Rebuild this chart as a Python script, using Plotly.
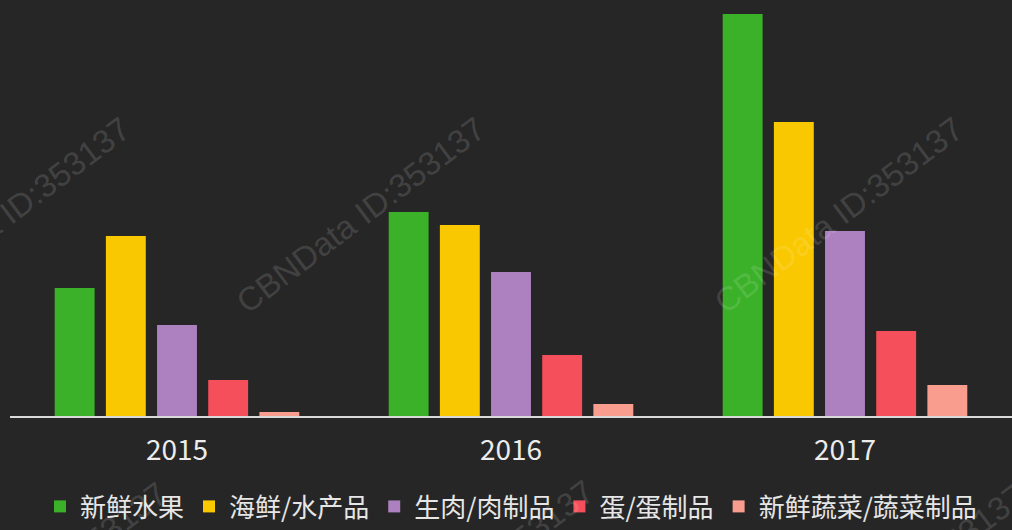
import plotly.graph_objects as go

years = ["2015", "2016", "2017"]
series_names = ["新鲜水果", "海鲜/水产品", "生肉/肉制品", "蛋/蛋制品", "新鲜蔬菜/蔬菜制品"]
fresh_fruit = [128, 204, 402]
seafood = [180, 191, 294]
meat = [91, 144, 185]
eggs = [36, 61, 85]
vegetables = [4, 12, 31]

colors = ["#3ab128", "#fac800", "#ad80bf", "#f44f5a", "#f99d8f"]

L, T, B = 10, 14, 114
PW, PH = 1012 - L, 530 - T - B

fig = go.Figure()
for name, vals, c in zip(series_names, [fresh_fruit, seafood, meat, eggs, vegetables], colors):
    fig.add_trace(go.Bar(x=years, y=vals, name=name, marker=dict(color=c, line=dict(width=0))))

# watermark text (positions in page pixels)
wm_font = dict(family="Liberation Sans, Arial", size=33, color="rgba(255,255,255,0.14)")
for wx, wy in [(5, 215), (360, 215), (838, 215), (42, 580), (469, 578), (900, 582)]:
    fig.add_annotation(text="CBNData ID:353137", x=(wx - L) / PW, y=(T + PH - wy) / PH,
                       xref="paper", yref="paper", showarrow=False,
                       textangle=-37, font=wm_font, xanchor="center", yanchor="middle")

fig.update_layout(
    width=1012, height=530,
    margin=dict(l=L, r=0, t=T, b=B, autoexpand=False),
    paper_bgcolor="#262626", plot_bgcolor="#262626",
    barmode="group", bargap=0.234, bargroupgap=0.22,
    font=dict(family="Noto Sans CJK SC", color="#e8e8e8"),
    xaxis=dict(showgrid=False, showline=True, linecolor="#d9d9d9", linewidth=2,
               ticks="", tickfont=dict(size=28, color="#ececec"), ticklabelstandoff=8),
    yaxis=dict(visible=False, range=[0, 402]),
    legend=dict(orientation="h", x=0.5, xanchor="center", yref="container", y=0, yanchor="bottom",
                font=dict(size=26, color="#e6e6e6"), bgcolor="rgba(0,0,0,0)",
                itemwidth=30, traceorder="normal"),
)

fig.write_html("out.html", config={"displayModeBar": False},
               post_script="document.body.style.margin='0';")
